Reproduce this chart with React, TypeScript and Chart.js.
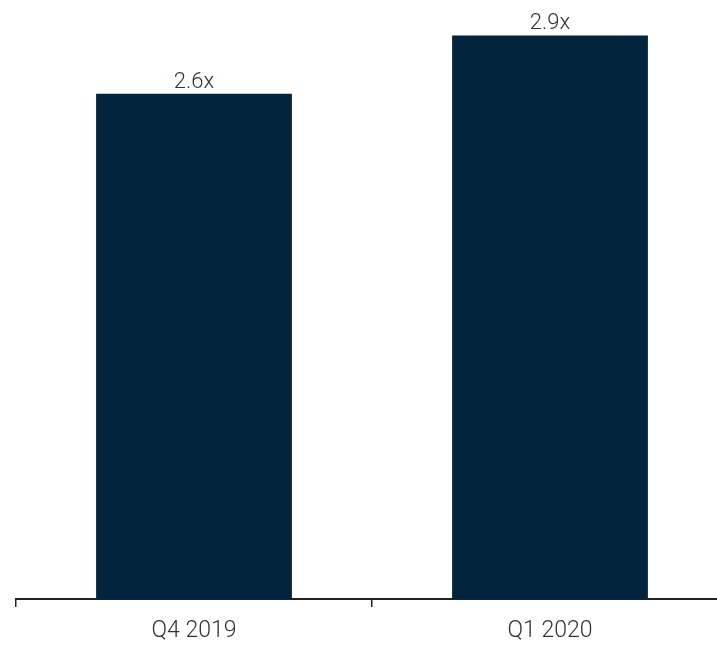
import React, { useEffect, useRef } from "react";
import { Chart, registerables } from "chart.js";

Chart.register(...registerables);

const categories = ["Q4 2019", "Q1 2020"];
const values = [2.6, 2.9];
const valueLabels = ["2.6x", "2.9x"];

const BAR_COLOR = "#02243d";
const TEXT_COLOR = "#333333";
const FONT_FAMILY = "Roboto, 'Open Sans', sans-serif";

const valueLabelPlugin = {
  id: "valueLabels",
  afterDatasetsDraw(chart: any) {
    const { ctx } = chart;
    const meta = chart.getDatasetMeta(0);
    ctx.save();
    ctx.font = `300 22px ${FONT_FAMILY}`;
    ctx.fillStyle = TEXT_COLOR;
    ctx.textAlign = "center";
    ctx.textBaseline = "alphabetic";
    meta.data.forEach((bar: any, i: number) => {
      ctx.fillText(valueLabels[i], bar.x, bar.y - 6);
    });
    ctx.restore();
  },
};

export default function App() {
  const canvasRef = useRef<HTMLCanvasElement | null>(null);

  useEffect(() => {
    document.body.style.margin = "0";
    const canvas = canvasRef.current;
    if (!canvas) return;
    const chart = new Chart(canvas, {
      type: "bar",
      data: {
        labels: categories,
        datasets: [
          {
            data: values,
            backgroundColor: BAR_COLOR,
            borderWidth: 0,
            barPercentage: 0.55,
            categoryPercentage: 1,
          },
        ],
      },
      options: {
        animation: false,
        responsive: false,
        maintainAspectRatio: false,
        layout: { padding: { left: 16, right: 0, top: 16, bottom: 0 } },
        plugins: {
          legend: { display: false },
          tooltip: { enabled: false },
        },
        scales: {
          x: {
            offset: true,
            grid: {
              display: true,
              offset: true,
              drawOnChartArea: false,
              drawTicks: true,
              tickLength: 8,
              color: "#222222",
              lineWidth: 1.5,
            },
            border: { display: true, color: "#222222", width: 2 },
            ticks: {
              color: TEXT_COLOR,
              padding: 10,
              font: { family: FONT_FAMILY, size: 23, weight: "300" as any },
            },
            afterFit(scale: any) {
              scale.height = 47;
            },
          },
          y: {
            display: false,
            min: 0,
            max: 3.0,
          },
        },
      },
      plugins: [valueLabelPlugin],
    });
    return () => chart.destroy();
  }, []);

  return (
    <div
      style={{
        position: "absolute",
        left: 0,
        top: 0,
        width: 717,
        height: 646,
        overflow: "hidden",
        background: "#ffffff",
      }}
    >
      <canvas ref={canvasRef} width={728} height={646} style={{ display: "block" }} />
    </div>
  );
}
